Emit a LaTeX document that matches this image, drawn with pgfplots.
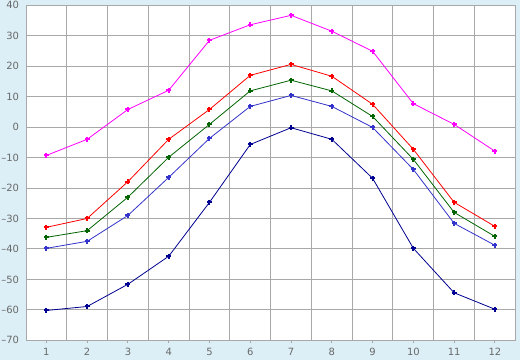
\documentclass[border=0pt]{standalone}
\usepackage{fontspec}
\setmainfont{DejaVu Sans}
\usepackage{pgfplots}
\pgfplotsset{compat=1.18}
\definecolor{bg}{RGB}{220,239,246}
\definecolor{gridc}{RGB}{168,168,168}
\definecolor{lab}{RGB}{105,105,105}
\definecolor{cmag}{RGB}{255,0,255}
\definecolor{cred}{RGB}{255,0,0}
\definecolor{cgreen}{RGB}{0,100,0}
\definecolor{cblue}{RGB}{51,51,204}
\definecolor{cnavy}{RGB}{0,0,145}
\newcommand{\negl}[1]{\mbox{\textendash#1}}
\begin{document}
\begin{tikzpicture}
\fill[bg] (0,0) rectangle (520bp,360bp);
\begin{axis}[
  at={(26bp,19.7bp)}, anchor=south west,
  scale only axis, width=489.3bp, height=335bp,
  xmin=0.5, xmax=12.5, ymin=-70, ymax=40,
  xtick={1,...,12},
  minor xtick={1.5,2.5,...,11.5},
  ytick={-70,-60,...,40},
  yticklabels={\negl{70},\negl{60},\negl{50},\negl{40},\negl{30},\negl{20},\negl{10},0,10,20,30,40},
  xminorgrids=true, ymajorgrids=true, xmajorgrids=false,
  grid style={gridc, line width=1bp},
  minor grid style={gridc, line width=1bp},
  axis line style={gridc, line width=1bp},
  axis background/.style={fill=white},
  tick align=outside,
  xtick pos=bottom, ytick pos=left,
  major tick length=3bp, minor tick length=0pt,
  xtick style={gridc, line width=1bp},
  ytick style={draw=none},
  minor tick style={draw=none},
  ticklabel style={font=\fontsize{10}{12}\selectfont, text=lab},
  xticklabel style={yshift=-1.5bp},
  yticklabel style={xshift=-0.5bp},
  /pgf/number format/assume math mode=true,
  every axis plot/.append style={line width=0.8bp, mark=+, mark size=2.5bp, mark options={line width=2bp}},
]
\addplot[cmag] coordinates {(1,-9.3) (2,-4.0) (3,5.8) (4,12.1) (5,28.5) (6,33.6) (7,36.7) (8,31.5) (9,24.9) (10,7.7) (11,0.9) (12,-7.9)};
\addplot[cred] coordinates {(1,-32.9) (2,-30.0) (3,-17.9) (4,-4.0) (5,5.8) (6,17.0) (7,20.6) (8,16.7) (9,7.5) (10,-7.3) (11,-24.7) (12,-32.6)};
\addplot[cgreen] coordinates {(1,-36.2) (2,-34.0) (3,-23.0) (4,-9.9) (5,0.9) (6,11.9) (7,15.4) (8,11.9) (9,3.5) (10,-10.6) (11,-28.0) (12,-35.9)};
\addplot[cblue] coordinates {(1,-39.8) (2,-37.5) (3,-29.0) (4,-16.5) (5,-3.7) (6,6.8) (7,10.4) (8,6.8) (9,-0.1) (10,-13.9) (11,-31.6) (12,-38.8)};
\addplot[cnavy] coordinates {(1,-60.2) (2,-58.9) (3,-51.6) (4,-42.4) (5,-24.7) (6,-5.7) (7,-0.2) (8,-4.0) (9,-16.8) (10,-39.8) (11,-54.4) (12,-59.8)};
\end{axis}
\pgfresetboundingbox
\path (0,0) rectangle (520bp,360bp);
\end{tikzpicture}
\end{document}
